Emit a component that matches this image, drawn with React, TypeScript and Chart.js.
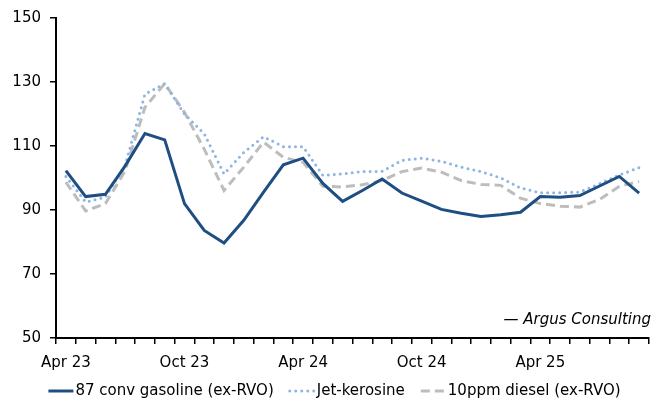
import React, { useEffect, useRef } from 'react';
import { Chart, registerables } from 'chart.js';
Chart.register(...registerables);

const months = [
  'Apr 23', 'May 23', 'Jun 23', 'Jul 23', 'Aug 23', 'Sep 23', 'Oct 23', 'Nov 23', 'Dec 23', 'Jan 24',
  'Feb 24', 'Mar 24', 'Apr 24', 'May 24', 'Jun 24', 'Jul 24', 'Aug 24', 'Sep 24', 'Oct 24', 'Nov 24',
  'Dec 24', 'Jan 25', 'Feb 25', 'Mar 25', 'Apr 25', 'May 25', 'Jun 25', 'Jul 25', 'Aug 25', 'Sep 25',
];

const gasoline = [
  102.3, 94.2, 94.9, 103.8, 113.9, 111.9, 92.0, 83.6, 79.7, 86.8,
  95.6, 104.1, 106.2, 98.3, 92.7, 96.1, 99.7, 95.3, 92.8, 90.2,
  89.0, 88.0, 88.5, 89.3, 94.2, 94.0, 94.5, 97.5, 100.5, 95.3,
];
const jet = [
  100.5, 92.5, 94.0, 104.0, 126.2, 129.5, 120.0, 113.8, 101.3, 108.0,
  112.9, 109.8, 109.8, 100.8, 101.3, 102.0, 102.1, 105.5, 106.2, 105.2,
  103.4, 102.0, 100.0, 96.9, 95.4, 95.4, 95.6, 98.2, 101.0, 103.2,
];
const diesel = [
  98.7, 89.7, 92.0, 102.3, 122.1, 129.5, 120.5, 109.0, 96.1, 103.4,
  111.2, 106.5, 104.9, 97.4, 97.2, 97.9, 99.2, 102.0, 103.1, 101.8,
  99.2, 98.0, 97.7, 93.7, 92.0, 91.2, 90.9, 93.3, 97.4, 98.9,
];

const seriesNames = ['87 conv gasoline (ex-RVO)', 'Jet-kerosine', '10ppm diesel (ex-RVO)'];
const sourceText = '\u2014 Argus Consulting';

const FONT = '"DejaVu Sans", sans-serif';
const C_GAS = '#1F4E82';
const C_JET = '#8DB4E2';
const C_DSL = '#BDBDBD';

const overlayPlugin = {
  id: 'overlay',
  afterDraw(chart: any) {
    const ctx = chart.ctx as CanvasRenderingContext2D;
    const area = chart.chartArea;
    ctx.save();
    // source note
    ctx.font = `italic 15px ${FONT}`;
    ctx.fillStyle = '#000';
    ctx.textAlign = 'right';
    ctx.textBaseline = 'middle';
    ctx.fillText(sourceText, area.right + 2, 320);

    // legend
    ctx.font = `15px ${FONT}`;
    ctx.textAlign = 'left';
    const symW = 25;
    const symGap = 2;
    const itemGap = 16;
    const ds = chart.data.datasets;
    const widths = ds.map((d: any) => symW + symGap + ctx.measureText(d.label).width);
    const total = widths.reduce((a: number, b: number) => a + b, 0) + itemGap * (ds.length - 1);
    let x = (chart.width - total) / 2;
    const y = 391;
    ds.forEach((d: any, i: number) => {
      ctx.save();
      ctx.strokeStyle = d.borderColor;
      ctx.lineWidth = d.borderWidth;
      ctx.lineCap = d.borderCapStyle || 'butt';
      ctx.setLineDash(d.borderDash || []);
      ctx.beginPath();
      ctx.moveTo(x, y);
      ctx.lineTo(x + symW, y);
      ctx.stroke();
      ctx.restore();
      ctx.fillStyle = '#000';
      ctx.fillText(d.label, x + symW + symGap, y);
      x += widths[i] + itemGap;
    });
    ctx.restore();
  },
};

export default function App() {
  const ref = useRef<HTMLCanvasElement | null>(null);
  useEffect(() => {
    if (!ref.current) return;
    const chart = new Chart(ref.current, {
      type: 'line',
      data: {
        labels: months,
        datasets: [
          {
            label: seriesNames[0], data: gasoline, borderColor: C_GAS, backgroundColor: C_GAS,
            borderWidth: 3, pointRadius: 0, tension: 0, borderJoinStyle: 'miter' as any,
          },
          {
            label: seriesNames[1], data: jet, borderColor: C_JET, backgroundColor: C_JET,
            borderWidth: 3, pointRadius: 0, tension: 0, borderDash: [0, 6], borderCapStyle: 'round' as any,
          },
          {
            label: seriesNames[2], data: diesel, borderColor: C_DSL, backgroundColor: C_DSL,
            borderWidth: 3, pointRadius: 0, tension: 0, borderDash: [9, 5],
          },
        ],
      },
      options: {
        animation: false,
        responsive: false,
        maintainAspectRatio: false,
        layout: { padding: { top: 17, right: 20, left: 0, bottom: 0 } },
        plugins: { legend: { display: false }, tooltip: { enabled: false } },
        scales: {
          x: {
            type: 'category',
            offset: true,
            grid: {
              offset: true, drawOnChartArea: false, drawTicks: true, tickLength: 6,
              color: '#000', lineWidth: 1.5,
            },
            border: { display: true, color: '#000', width: 2 },
            ticks: {
              autoSkip: false, maxRotation: 0, minRotation: 0, padding: 10,
              color: '#000', font: { family: FONT, size: 15 },
              callback: (_v: any, i: number) => (i % 6 === 0 ? months[i] : ''),
            },
            afterFit: (s: any) => { s.height = 67; },
          },
          y: {
            min: 50, max: 150,
            grid: {
              drawOnChartArea: false, drawTicks: true, tickLength: 6, color: '#000', lineWidth: 1.5,
            },
            border: { display: true, color: '#000', width: 2 },
            ticks: {
              stepSize: 20, padding: 9, color: '#000', font: { family: FONT, size: 15 },
            },
            afterFit: (s: any) => { s.width = 56; },
          },
        },
      },
      plugins: [overlayPlugin],
    });
    return () => chart.destroy();
  }, []);
  return (
    <div style={{ position: 'fixed', left: 0, top: 0, width: 669, height: 405, background: '#fff' }}>
      <canvas ref={ref} width={669} height={405} style={{ display: 'block' }} />
    </div>
  );
}
